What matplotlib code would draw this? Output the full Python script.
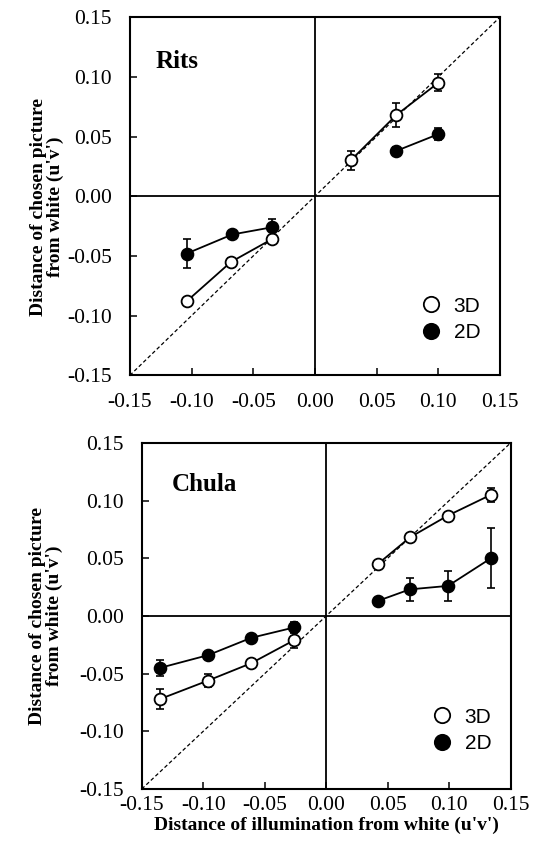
import matplotlib.pyplot as plt
import numpy as np

plt.rcParams['font.family'] = 'Liberation Serif'

# tick values / labels
ticks = [-0.15, -0.10, -0.05, 0.00, 0.05, 0.10, 0.15]
tick_labels = ["-0.15", "-0.10", "-0.05", "0.00", "0.05", "0.10", "0.15"]

# Rits panel
rits_3d_x = [-0.104, -0.068, -0.035, 0.029, 0.066, 0.100]
rits_3d_y = [-0.088, -0.055, -0.036, 0.030, 0.068, 0.095]
rits_3d_err = [0.003, 0.003, 0.003, 0.008, 0.010, 0.007]
rits_2d_x = [-0.104, -0.067, -0.035, 0.066, 0.100]
rits_2d_y = [-0.048, -0.032, -0.026, 0.038, 0.052]
rits_2d_err = [0.012, 0.003, 0.007, 0.003, 0.005]

# Chula panel
chula_3d_x = [-0.135, -0.096, -0.061, -0.026, 0.042, 0.068, 0.099, 0.134]
chula_3d_y = [-0.072, -0.056, -0.041, -0.021, 0.045, 0.068, 0.087, 0.105]
chula_3d_err = [0.009, 0.006, 0.002, 0.007, 0.002, 0.003, 0.002, 0.006]
chula_2d_x = [-0.135, -0.096, -0.061, -0.026, 0.042, 0.068, 0.099, 0.134]
chula_2d_y = [-0.045, -0.034, -0.019, -0.010, 0.013, 0.023, 0.026, 0.050]
chula_2d_err = [0.007, 0.002, 0.002, 0.005, 0.002, 0.010, 0.013, 0.026]

ylabel = "Distance of chosen picture\nfrom white (u'v')"
xlabel = "Distance of illumination from white (u'v')"


def draw_series(ax, x, y, err, filled):
    x = np.array(x)
    y = np.array(y)
    ax.errorbar(x, y, yerr=err, fmt='none', ecolor='black', elinewidth=1.2,
                capsize=3, capthick=1.2, zorder=3)
    # lines only join points inside the same quadrant
    for mask in (x < 0, x > 0):
        ax.plot(x[mask], y[mask], '-', color='black', lw=1.3, zorder=2)
    fc = 'black' if filled else 'white'
    h, = ax.plot(x, y, 'o', ms=8.5, mfc=fc, mec='black', mew=1.3, zorder=4)
    return h


def draw_panel(ax, name, d3, d2, name_pos, leg_anchor, xpad):
    ax.set_xlim(-0.15, 0.15)
    ax.set_ylim(-0.15, 0.15)
    ax.plot([-0.15, 0.15], [-0.15, 0.15], '--', color='black', lw=0.9,
            dashes=(3, 2), zorder=1)
    ax.axhline(0, color='black', lw=1.3, zorder=1)
    ax.axvline(0, color='black', lw=1.3, zorder=1)
    h3 = draw_series(ax, *d3, filled=False)
    h2 = draw_series(ax, *d2, filled=True)
    ax.set_xticks(ticks)
    ax.set_xticklabels(tick_labels)
    ax.set_yticks(ticks)
    ax.set_yticklabels(tick_labels)
    ax.tick_params(direction='in', length=5, width=1.1, labelsize=15.5)
    ax.tick_params(axis='y', pad=13)
    ax.tick_params(axis='x', pad=xpad)
    for s in ax.spines.values():
        s.set_linewidth(1.5)
    ax.text(name_pos[0], name_pos[1], name, transform=ax.transAxes,
            fontsize=18, fontweight='bold', va='center', ha='left')
    ax.legend([h3, h2], ["3D", "2D"], loc='lower right', bbox_to_anchor=leg_anchor,
              frameon=False, handletextpad=0.1, labelspacing=0.35, borderaxespad=0,
              prop={'family': 'Liberation Sans', 'size': 15}, markerscale=1.3)
    ax.set_ylabel(ylabel, fontsize=14, fontweight='bold', linespacing=0.95)


fig = plt.figure(figsize=(5.41, 8.59), dpi=100)
ax1 = fig.add_axes([0.240, 0.563, 0.684, 0.417])
ax2 = fig.add_axes([0.262, 0.0815, 0.682, 0.403])

draw_panel(ax1, "Rits", (rits_3d_x, rits_3d_y, rits_3d_err),
           (rits_2d_x, rits_2d_y, rits_2d_err), (0.07, 0.875), (0.97, 0.07), 13)
draw_panel(ax2, "Chula", (chula_3d_x, chula_3d_y, chula_3d_err),
           (chula_2d_x, chula_2d_y, chula_2d_err), (0.08, 0.88), (0.97, 0.08), 5)

ax1.yaxis.set_label_coords(-0.178, 0.47)
ax2.yaxis.set_label_coords(-0.214, 0.5)
ax2.set_xlabel(xlabel, fontsize=14, fontweight='bold', labelpad=1)

fig.savefig("out.png", dpi=100, facecolor='white')
